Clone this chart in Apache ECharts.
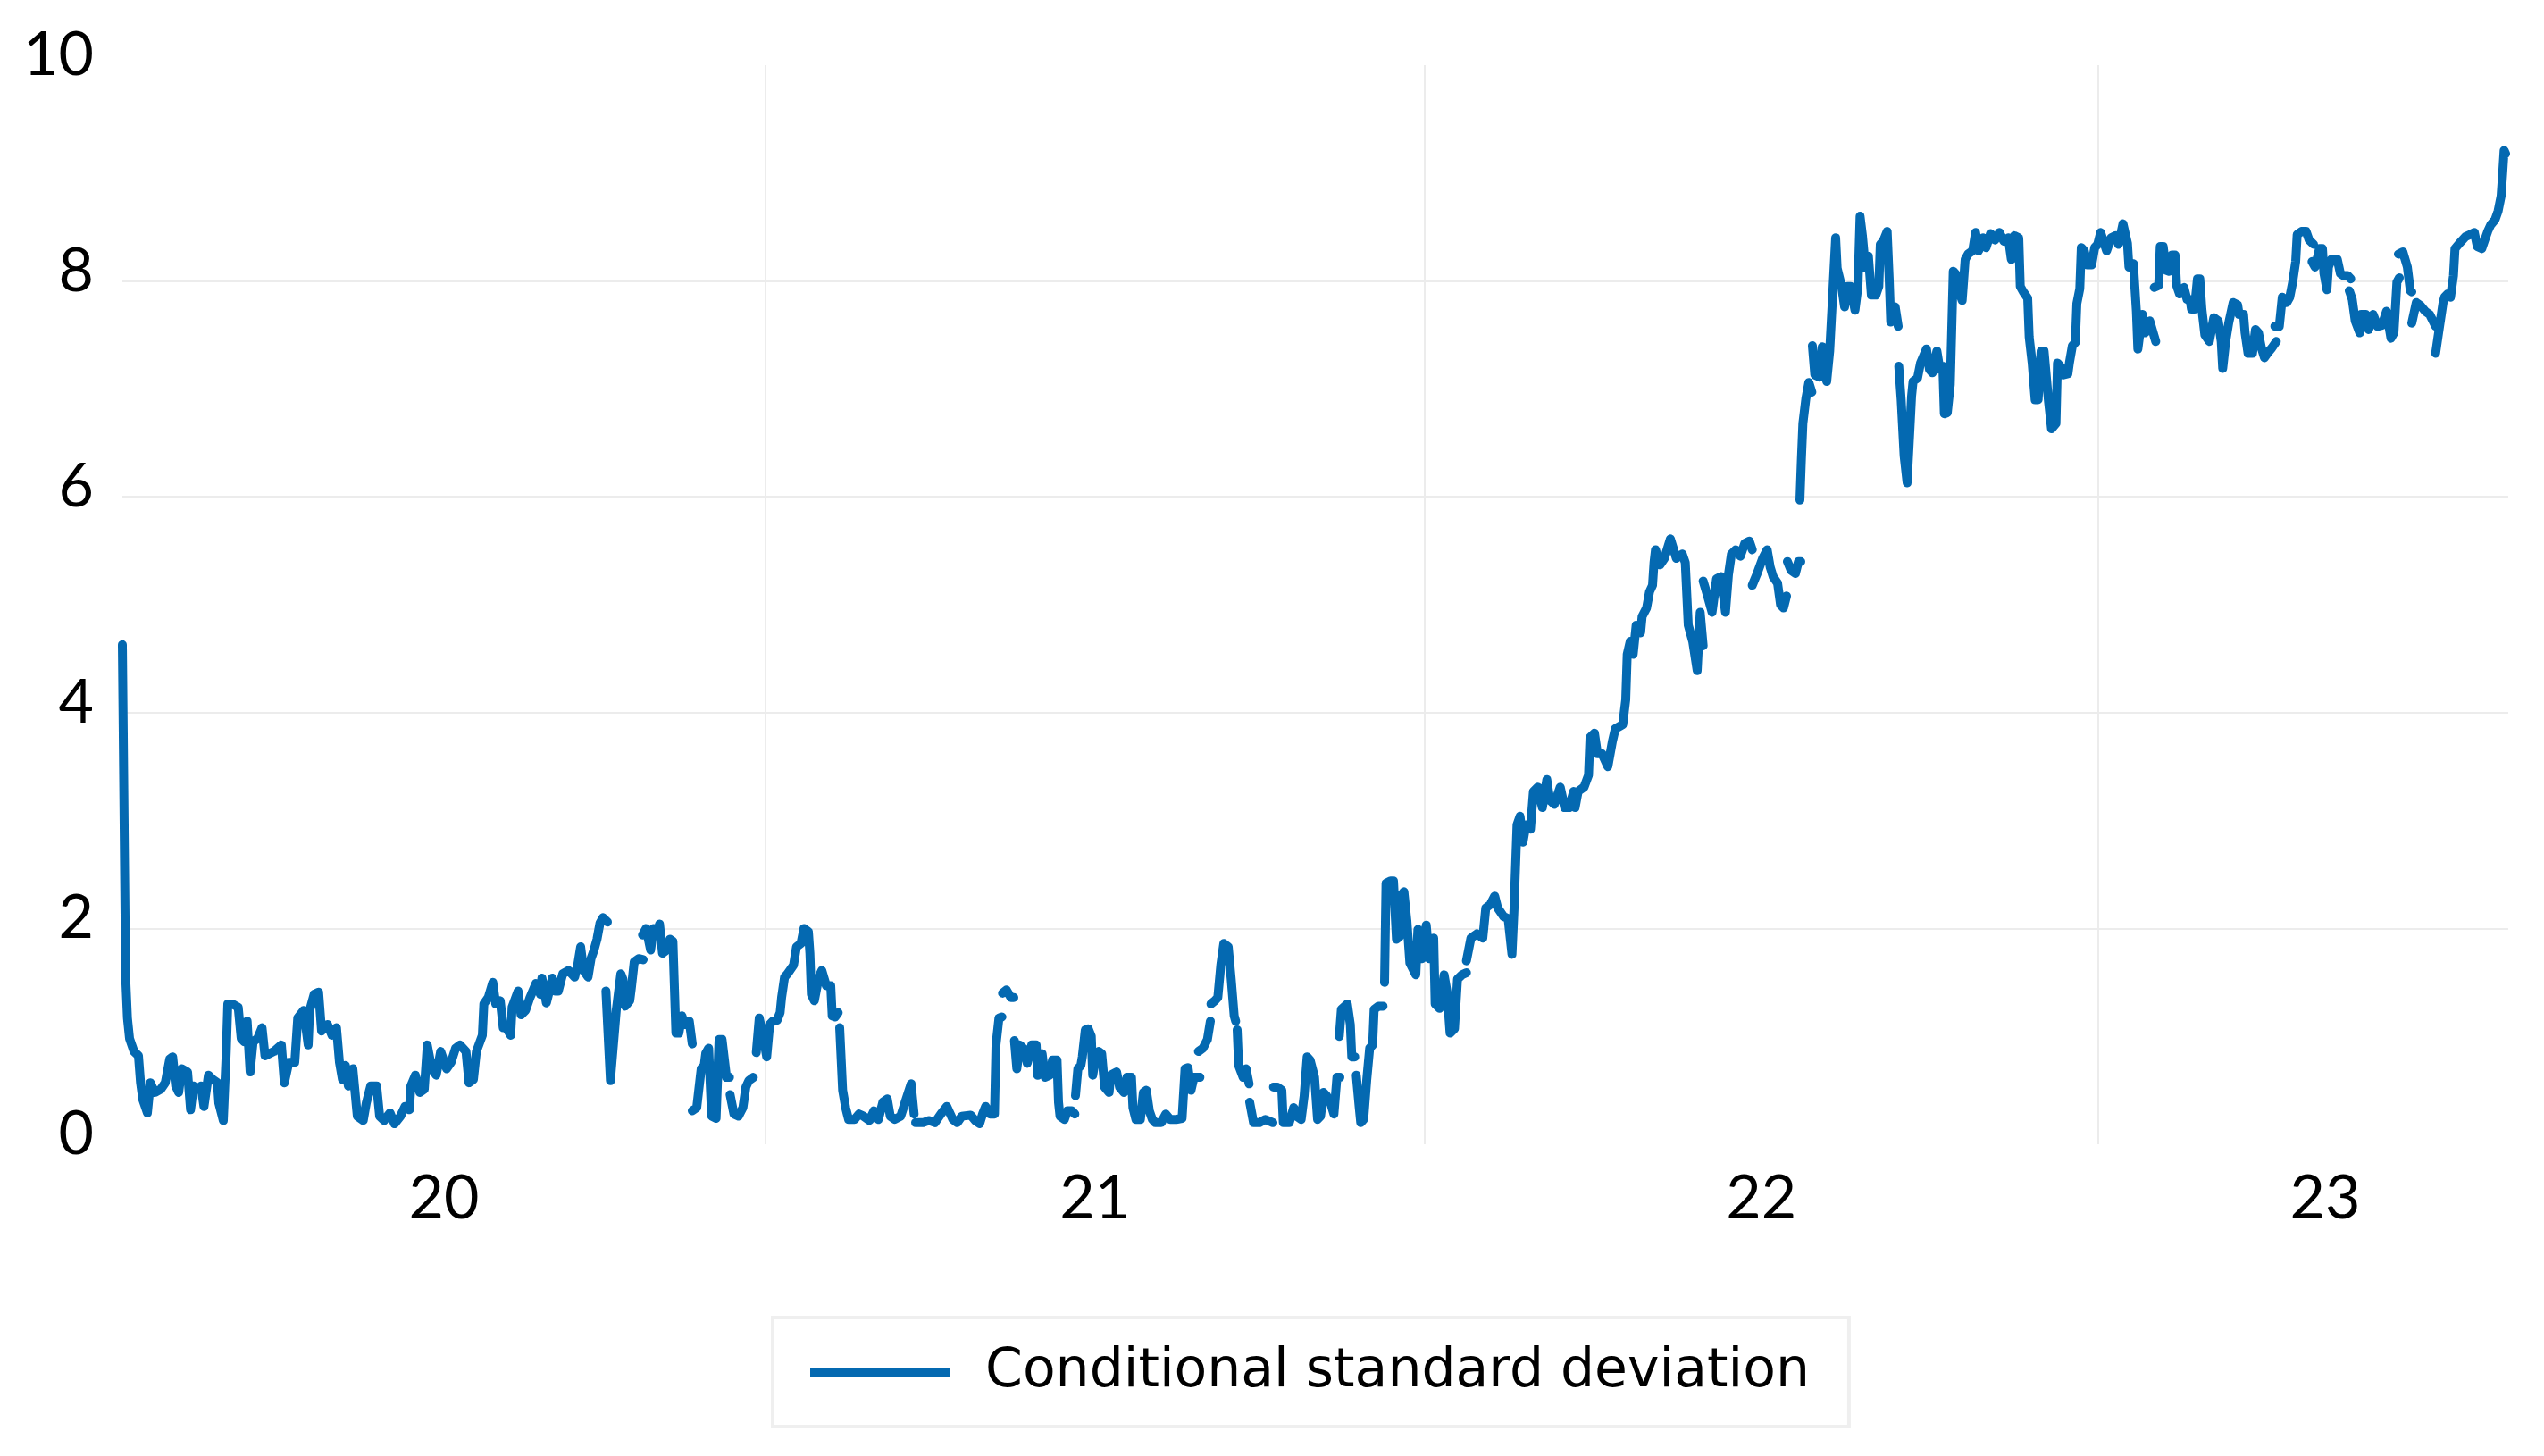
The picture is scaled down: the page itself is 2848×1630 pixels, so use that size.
<!DOCTYPE html>
<html><head><meta charset="utf-8">
<script src="https://cdn.jsdelivr.net/npm/echarts@6/dist/echarts.min.js"></script>
<style>html,body{margin:0;padding:0;background:#fff}#c{width:2848px;height:1630px}</style>
</head><body><div id="c"></div>
<script>
// time index t: 9 units = 1 trading day, t = 0 is the first observation (Jan 2020)
const yearStarts = [2159, 4372, 6636];               // 1 Jan 2021, 2022, 2023
const yearLabelPos = [1080, 3266, 5504, 7398];       // middle of each year band
const yearLabels = ['20', '21', '22', '23'];
const seriesName = 'Conditional standard deviation';

// continuous pieces of the series [t, value]; breaks between pieces are missing data
const segments = [
[[0,4.63],[11,1.55],[17,1.17],[24,0.98],[39,0.86],[54,0.82],[61,0.57],[69,0.41],[84,0.29],[94,0.57],[109,0.48],[129,0.51],[144,0.57],[159,0.79],[169,0.81],[179,0.54],[189,0.48],[199,0.7],[219,0.67],[229,0.32],[239,0.54],[254,0.51],[264,0.54],[274,0.35],[289,0.64],[304,0.6],[319,0.57],[324,0.38],[339,0.22],[349,0.86],[354,1.3],[369,1.3],[389,1.27],[399,0.98],[409,0.95],[419,1.14],[429,0.67],[439,0.95],[454,0.98],[469,1.08],[479,0.82],[509,0.86],[534,0.92],[544,0.57],[559,0.76],[579,0.76],[589,1.17],[609,1.24],[624,0.92],[629,1.24],[644,1.39],[659,1.41],[669,1.05],[689,1.11],[704,1.01],[719,1.08],[729,0.76],[739,0.6],[749,0.73],[759,0.54],[774,0.7],[789,0.26],[809,0.22],[819,0.38],[834,0.54],[854,0.54],[864,0.26],[879,0.22],[899,0.29],[914,0.19],[934,0.26],[949,0.35],[964,0.32],[969,0.54],[984,0.64],[999,0.48],[1014,0.51],[1024,0.92],[1039,0.7],[1054,0.64],[1069,0.86],[1089,0.7],[1104,0.76],[1119,0.89],[1134,0.92],[1154,0.86],[1164,0.57],[1179,0.6],[1189,0.86],[1209,1.01],[1214,1.3],[1229,1.36],[1244,1.5],[1254,1.3],[1269,1.33],[1279,1.08],[1289,1.08],[1304,1.01],[1309,1.27],[1329,1.42],[1339,1.2],[1354,1.24],[1369,1.36],[1389,1.49],[1404,1.39],[1409,1.54],[1424,1.31],[1434,1.42],[1444,1.54],[1454,1.42],[1464,1.42],[1479,1.58],[1499,1.61],[1519,1.55],[1529,1.66],[1539,1.83],[1549,1.61],[1564,1.55],[1574,1.72],[1584,1.8],[1594,1.9],[1604,2.05],[1614,2.1],[1629,2.06]],
[[1624,1.42],[1639,0.59],[1659,1.25],[1674,1.58],[1681,1.53],[1689,1.28],[1704,1.33],[1709,1.44],[1719,1.69],[1734,1.72],[1749,1.71]],
[[1747,1.94],[1759,2.0],[1774,1.8],[1784,2.0],[1794,1.94],[1804,2.04],[1814,1.77],[1824,1.79],[1839,1.9],[1849,1.88],[1859,1.03],[1869,1.03],[1879,1.19],[1889,1.11],[1904,1.14],[1914,0.93]],
[[1914,0.31],[1929,0.34],[1944,0.7],[1954,0.73],[1959,0.84],[1969,0.89],[1979,0.26],[1994,0.24],[2004,0.97],[2014,0.97],[2029,0.62],[2039,0.62]],
[[2041,0.46],[2054,0.28],[2069,0.26],[2084,0.34],[2094,0.53],[2104,0.59],[2119,0.62]],
[[2129,0.85],[2139,1.17],[2154,0.97],[2164,0.81],[2174,1.11],[2184,1.14],[2199,1.15],[2209,1.22],[2214,1.36],[2224,1.55],[2234,1.58],[2254,1.66],[2264,1.83],[2279,1.86],[2289,2.0],[2304,1.97],[2309,1.77],[2314,1.39],[2324,1.33],[2339,1.55],[2349,1.61],[2364,1.47],[2379,1.47],[2384,1.19],[2394,1.18],[2404,1.22]],
[[2409,1.08],[2419,0.5],[2429,0.34],[2439,0.23],[2459,0.23],[2474,0.28],[2489,0.26],[2509,0.22],[2524,0.31],[2539,0.23],[2554,0.39],[2569,0.42],[2579,0.26],[2594,0.23],[2614,0.26],[2629,0.39],[2649,0.56],[2659,0.28]],
[[2664,0.2],[2689,0.2],[2709,0.22],[2729,0.2],[2749,0.28],[2769,0.35],[2789,0.23],[2804,0.2],[2819,0.26],[2824,0.27],[2849,0.27],[2864,0.22],[2879,0.19],[2889,0.28],[2899,0.35],[2914,0.28],[2929,0.28],[2934,0.92],[2944,1.17],[2954,1.18]],
[[2956,1.4],[2969,1.43],[2984,1.36],[2994,1.36]],
[[2996,0.96],[3004,0.7],[3014,0.92],[3029,0.88],[3039,0.75],[3054,0.92],[3069,0.92],[3074,0.64],[3089,0.84],[3099,0.62],[3114,0.64],[3124,0.78],[3139,0.78],[3144,0.39],[3149,0.26],[3164,0.23],[3174,0.31],[3189,0.31],[3199,0.28]],
[[3201,0.45],[3209,0.7],[3219,0.73],[3224,0.81],[3234,1.06],[3244,1.07],[3254,1.0],[3259,0.64],[3269,0.81],[3279,0.86],[3289,0.84],[3299,0.53],[3314,0.48],[3319,0.64],[3339,0.67],[3349,0.53],[3364,0.48],[3374,0.62],[3389,0.62],[3394,0.34],[3404,0.23],[3419,0.23],[3429,0.48],[3439,0.5],[3449,0.31],[3459,0.23],[3469,0.2],[3489,0.2],[3504,0.28],[3519,0.23],[3539,0.23],[3559,0.24],[3569,0.7],[3579,0.71],[3589,0.5],[3599,0.62],[3619,0.62]],
[[3614,0.86],[3629,0.89],[3644,0.97],[3654,1.14]],
[[3656,1.3],[3669,1.33],[3679,1.36],[3689,1.66],[3699,1.86],[3714,1.83],[3724,1.53],[3734,1.19],[3739,1.14]],
[[3744,1.06],[3749,0.73],[3764,0.62],[3774,0.7],[3784,0.56]],
[[3786,0.39],[3799,0.2],[3819,0.2],[3839,0.23],[3864,0.2]],
[[3866,0.53],[3879,0.53],[3894,0.5],[3899,0.2],[3919,0.2],[3934,0.34],[3944,0.26],[3959,0.23],[3969,0.45],[3979,0.81],[3989,0.78],[4004,0.62],[4014,0.23],[4024,0.26],[4034,0.48],[4044,0.45],[4059,0.37],[4069,0.28],[4079,0.62],[4089,0.62]],
[[4087,1.0],[4094,1.25],[4114,1.3],[4124,1.11],[4129,0.81],[4139,0.81]],
[[4144,0.64],[4154,0.34],[4159,0.2],[4169,0.23],[4179,0.59],[4189,0.89],[4199,0.92],[4204,1.25],[4219,1.28],[4234,1.28]],
[[4239,1.5],[4244,2.42],[4259,2.44],[4269,2.44],[4279,1.9],[4289,1.92],[4294,2.3],[4304,2.34],[4314,2.07],[4324,1.68],[4344,1.57],[4351,1.99],[4364,1.72],[4379,2.03],[4389,1.72],[4404,1.91],[4409,1.3],[4424,1.26],[4439,1.57],[4449,1.41],[4459,1.03],[4474,1.07],[4484,1.53],[4499,1.57],[4514,1.59]],
[[4514,1.7],[4529,1.91],[4549,1.95],[4569,1.91],[4579,2.19],[4594,2.22],[4609,2.3],[4619,2.19],[4639,2.11],[4654,2.09],[4667,1.76],[4674,2.19],[4684,2.96],[4694,3.04],[4704,2.8],[4714,2.96],[4729,2.92],[4739,3.27],[4754,3.31],[4769,3.12],[4784,3.38],[4794,3.19],[4809,3.15],[4829,3.31],[4844,3.12],[4859,3.12],[4874,3.27],[4879,3.12],[4889,3.27],[4909,3.31],[4924,3.42],[4929,3.77],[4944,3.81],[4954,3.62],[4969,3.62],[4989,3.5],[5004,3.73],[5014,3.85],[5039,3.89],[5049,4.12],[5054,4.54],[5064,4.66],[5074,4.54],[5084,4.81],[5099,4.74],[5104,4.89],[5119,4.97],[5129,5.12],[5139,5.18],[5144,5.39],[5149,5.51],[5164,5.37],[5179,5.43],[5199,5.61],[5219,5.43],[5239,5.47],[5249,5.39],[5259,4.81],[5274,4.66],[5289,4.39],[5299,4.93],[5309,4.62]],
[[5309,5.22],[5324,5.08],[5339,4.93],[5354,5.24],[5369,5.26],[5384,4.93],[5394,5.28],[5404,5.47],[5419,5.51],[5434,5.45],[5449,5.57],[5464,5.59],[5474,5.51]],
[[5474,5.18],[5489,5.28],[5509,5.43],[5524,5.51],[5534,5.35],[5544,5.26],[5559,5.2],[5569,5.0],[5579,4.97],[5589,5.08]],
[[5592,5.4],[5604,5.32],[5619,5.29],[5629,5.4],[5637,5.4]],
[[5634,5.97],[5639,6.35],[5644,6.68],[5654,6.91],[5664,7.06],[5674,6.97]],
[[5676,7.4],[5684,7.13],[5699,7.11],[5709,7.39],[5724,7.07],[5734,7.35],[5744,7.87],[5754,8.4],[5759,8.12],[5774,7.95],[5784,7.76],[5794,7.95],[5804,7.95],[5819,7.73],[5829,7.95],[5836,8.6],[5844,8.42],[5854,8.12],[5864,8.23],[5874,7.87],[5889,7.87],[5899,7.95],[5904,8.34],[5914,8.37],[5927,8.46],[5934,8.01],[5939,7.62],[5954,7.76],[5964,7.58]],
[[5966,7.21],[5974,6.9],[5984,6.38],[5994,6.13],[6004,6.66],[6009,6.93],[6014,7.07],[6029,7.1],[6039,7.24],[6059,7.37],[6069,7.18],[6079,7.15],[6094,7.35],[6104,7.18],[6114,7.21],[6119,6.77],[6129,6.78],[6139,7.04],[6149,8.09],[6159,8.06],[6169,7.9],[6179,7.82],[6189,8.2],[6199,8.25],[6214,8.28],[6224,8.45],[6234,8.28],[6249,8.4],[6259,8.31],[6274,8.44],[6289,8.38],[6304,8.45],[6319,8.37],[6334,8.4],[6344,8.2],[6354,8.42],[6369,8.4],[6374,7.95],[6384,7.9],[6399,7.84],[6404,7.48],[6414,7.24],[6424,6.9],[6434,6.9],[6444,7.35],[6454,7.35],[6469,6.88],[6479,6.63],[6494,6.68],[6499,7.24],[6509,7.21],[6519,7.13],[6534,7.14],[6539,7.24],[6549,7.4],[6559,7.43],[6564,7.79],[6574,7.93],[6579,8.31],[6589,8.28],[6599,8.15],[6614,8.15],[6624,8.31],[6634,8.34],[6644,8.45],[6664,8.28],[6679,8.4],[6694,8.42],[6704,8.34],[6719,8.53],[6734,8.35],[6739,8.13],[6754,8.16],[6764,7.72],[6769,7.37],[6784,7.69],[6794,7.52],[6809,7.63],[6829,7.44]],
[[6824,7.94],[6839,7.96],[6844,8.32],[6854,8.32],[6864,8.1],[6874,8.09],[6884,8.24],[6894,8.24],[6899,7.96],[6909,7.88],[6924,7.94],[6934,7.83],[6944,7.83],[6949,7.74],[6959,7.74],[6969,8.02],[6977,8.02],[6984,7.74],[6994,7.5],[7009,7.44],[7024,7.66],[7039,7.63],[7049,7.44],[7054,7.19],[7064,7.44],[7074,7.61],[7089,7.8],[7104,7.78],[7109,7.69],[7124,7.69],[7129,7.52],[7139,7.33],[7154,7.33],[7164,7.55],[7174,7.52],[7184,7.38],[7194,7.29],[7204,7.33],[7219,7.38],[7234,7.44]],
[[7229,7.58],[7244,7.58],[7254,7.85],[7269,7.8],[7279,7.85],[7289,7.99],[7299,8.18],[7304,8.43],[7319,8.46],[7334,8.46],[7344,8.38],[7359,8.34]],
[[7354,8.18],[7364,8.13],[7379,8.3],[7389,8.3],[7394,8.07],[7404,7.92],[7409,8.13],[7419,8.2],[7439,8.2],[7449,8.07],[7459,8.05],[7474,8.05],[7484,8.02]],
[[7479,7.91],[7489,7.83],[7499,7.63],[7514,7.52],[7519,7.69],[7534,7.69],[7544,7.55],[7559,7.69],[7574,7.58],[7589,7.59],[7604,7.72],[7619,7.47],[7629,7.52],[7639,7.99],[7647,8.03]],
[[7644,8.25],[7659,8.27],[7674,8.13],[7684,7.91],[7689,7.9]],
[[7689,7.61],[7704,7.8],[7719,7.77],[7734,7.72],[7749,7.69],[7769,7.58]],
[[7769,7.33],[7779,7.52],[7794,7.8],[7799,7.85],[7809,7.88],[7819,7.85],[7829,8.05],[7834,8.3],[7849,8.35],[7869,8.41],[7884,8.43],[7899,8.45],[7909,8.32],[7924,8.3],[7934,8.38],[7944,8.46],[7954,8.52],[7969,8.57],[7979,8.65],[7989,8.79],[7994,8.99],[7999,9.21],[8004,9.18]]
];

const lineData = [];
segments.forEach((seg, k) => {
  if (k > 0) lineData.push([seg[0][0], '-']);
  seg.forEach(p => lineData.push(p));
});

const BLUE = '#0469b1';
const GRID = '#ececec';
const FONT = 'Lato';

const chart = echarts.init(document.getElementById('c'), null, { renderer: 'canvas' });
chart.setOption({
  animation: false,
  backgroundColor: '#ffffff',
  grid: { left: 137, right: 40, top: 73, bottom: 349, outerBoundsMode: 'none' },
  xAxis: {
    type: 'value', min: 0, max: 8013,
    axisLine: { show: false }, axisTick: { show: false }, splitLine: { show: false },
    axisLabel: {
      customValues: yearLabelPos,
      formatter: function (v) {
        let best = 0;
        yearLabelPos.forEach((p, i) => { if (Math.abs(p - v) < Math.abs(yearLabelPos[best] - v)) best = i; });
        return yearLabels[best];
      },
      fontSize: 68, fontFamily: FONT, color: '#000', margin: 27
    }
  },
  yAxis: {
    type: 'value', min: 0, max: 10, interval: 2,
    axisLine: { show: false }, axisTick: { show: false },
    axisLabel: { fontSize: 68, fontFamily: FONT, color: '#000', margin: 32, verticalAlign: 'bottom', lineHeight: 22 },
    splitLine: { show: true, showMinLine: false, showMaxLine: false, lineStyle: { color: GRID, width: 2 } }
  },
  legend: {
    data: [seriesName],
    left: 865, top: 1475,
    icon: 'rect', itemWidth: 156, itemHeight: 10,
    padding: [31, 44, 31, 42],
    borderColor: '#efefef', borderWidth: 4,
    textStyle: { fontSize: 60, fontFamily: 'DejaVu Sans', color: '#000', padding: [0, 0, 0, 35] }
  },
  series: [{
    type: 'line', name: seriesName, data: lineData,
    showSymbol: false, connectNulls: false, z: 3,
    lineStyle: { color: BLUE, width: 10, cap: 'round', join: 'round' },
    itemStyle: { color: BLUE },
    markLine: {
      silent: true, z: 1, symbol: ['none', 'none'], label: { show: false },
      lineStyle: { color: GRID, width: 2, type: 'solid' },
      emphasis: { disabled: true },
      data: yearStarts.map(x => ({ xAxis: x }))
    }
  }]
});
</script></body></html>
